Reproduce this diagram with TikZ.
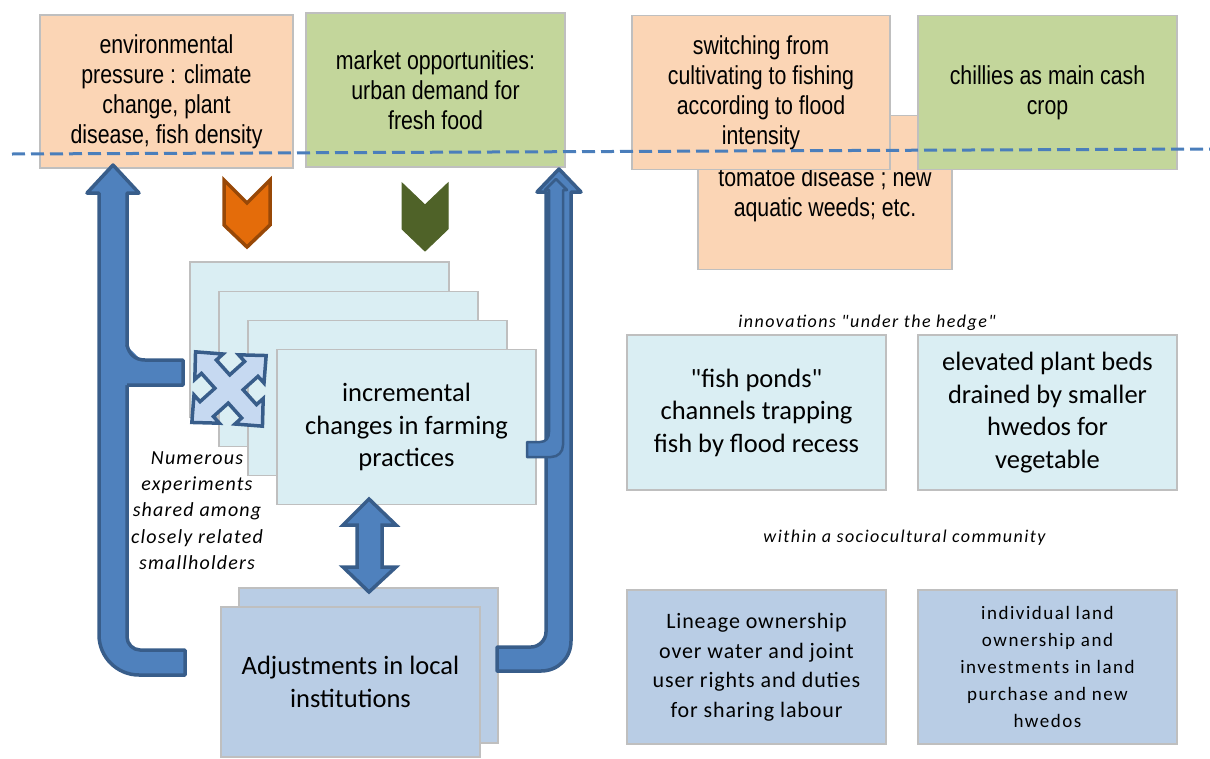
\documentclass[tikz,border=0pt]{standalone}
\usepackage{fontspec}
\setmainfont{Carlito}[Ligatures=TeXOff]
\newfontfamily\narrowfont{Liberation Sans}[FakeStretch=0.82,Ligatures=TeXOff]
\newfontfamily\notefont{Carlito}[LetterSpace=6,Ligatures=TeXOff]
\newfontfamily\spacedfont{Carlito}[LetterSpace=4,Ligatures=TeXOff]
\newfontfamily\widefont{Carlito}[LetterSpace=8,Ligatures=TeXOff]
\definecolor{peach}{HTML}{FBD5B5}
\definecolor{leaf}{HTML}{C3D69B}
\definecolor{pale}{HTML}{DAEEF3}
\definecolor{steel}{HTML}{B9CDE5}
\definecolor{boxgray}{HTML}{BFBFBF}
\definecolor{arrowblue}{HTML}{4F81BD}
\definecolor{arrowdark}{HTML}{385D8A}
\definecolor{quadfill}{HTML}{C6D9F1}
\definecolor{chevorange}{HTML}{E46C0A}
\definecolor{chevbrown}{HTML}{984807}
\definecolor{chevgreen}{HTML}{4F6228}
\definecolor{dashblue}{HTML}{4A7EBB}
\begin{document}
\begin{tikzpicture}[x=1pt,y=-1pt,
  box/.style={draw=boxgray, line width=1.6pt, inner sep=0pt, align=center,
              minimum width=258pt, minimum height=154pt},
  narrowtext/.style={font=\narrowfont\fontsize{26}{30}\selectfont},
  cardtext/.style={font=\fontsize{26.5}{32.5}\selectfont},
  blockarrow/.style={fill=arrowblue, draw=arrowdark, line width=3.5pt, line join=round},
  note/.style={font=\notefont\itshape\fontsize{20}{26.2}\selectfont, align=center, inner sep=0pt},
  headnote/.style={font=\widefont\itshape\fontsize{18}{22}\selectfont, inner sep=0pt},
]
\useasboundingbox (0,0) rectangle (1210,758);

% ---- top boxes ----
\node[box, fill=peach, minimum width=254pt] (tomato) at (825,192.5) {};
\node[narrowtext, align=center, inner sep=0pt] (tomatotext) at (825,195)
  {tomatoe disease ; new\\aquatic weeds; etc.};
\node[box, fill=peach, narrowtext, minimum width=253pt, minimum height=153pt] (env) at (166.5,91.5)
  {environmental\\pressure : climate\\change, plant\\disease, fish density};
\node[box, fill=leaf, narrowtext, minimum width=259pt] (market) at (435.5,90)
  {market opportunities:\\urban demand for\\fresh food};
\node[box, fill=peach, narrowtext] (switch) at (761,92.5)
  {switching from\\cultivating to fishing\\according to flood\\intensity};
\node[box, fill=leaf, narrowtext, minimum width=259pt] (chillies) at (1047.5,92.5)
  {chillies as main cash\\crop};

% ---- chevrons ----
\draw[fill=chevorange, draw=chevbrown, line width=3.5pt, line join=miter]
  (224,180) -- (247,203) -- (270,180) -- (270,225) -- (247,247) -- (224,225) -- cycle;
\draw[fill=chevgreen, draw=chevgreen, line width=1pt]
  (402,183) -- (425,205) -- (448,183) -- (448,229) -- (425,251) -- (402,229) -- cycle;

% ---- stacked cards ----
\node[box, fill=pale, cardtext, minimum width=259pt, minimum height=155pt] (card1) at (319.5,339.5)
  {incremental\\changes in farming\\practices};
\node[box, fill=pale, cardtext, minimum width=259pt, minimum height=155pt] (card2) at (348.5,369)
  {incremental\\changes in farming\\practices};
\node[box, fill=pale, cardtext, minimum width=259pt, minimum height=155pt] (card3) at (377.5,398)
  {incremental\\changes in farming\\practices};
\node[box, fill=pale, cardtext, minimum width=259pt, minimum height=155pt] (card4) at (406.5,427)
  {incremental\\changes in farming\\practices};

% ---- adjustments boxes ----
\node[box, fill=steel, minimum width=259pt, minimum height=155pt] (adjback) at (368.5,665.5) {};
\node[box, fill=steel, cardtext, minimum width=259pt, minimum height=150pt] (adjfront) at (350.5,682)
  {Adjustments in local\\institutions};

% ---- left U arrow ----
\draw[blockarrow]
  (185,650) -- (140,650) .. controls (133,650) and (127,644) .. (127,637)
  -- (127,193) -- (139,193) -- (113,165) -- (87,193) -- (99,193)
  -- (99,635) .. controls (99,657) and (117,675) .. (139,675) -- (185,675) -- cycle;
\fill[arrowblue] (120,345) -- (127,347) .. controls (135,352) and (138,360) .. (145,360)
  -- (183,360) -- (183,385) -- (120,385) -- cycle;
\draw[arrowdark, line width=3.5pt, line join=round]
  (127,345) .. controls (129,354) and (135,360) .. (145,360)
  -- (183,360) -- (183,385) -- (127,385);

% ---- quad arrow ----
\draw[fill=quadfill, draw=arrowdark, line width=3.5pt, line join=miter,
      shift={(229,389)}, rotate=42]
  (30,-10) -- (30,-19) -- (50,0) -- (30,19) -- (30,10) -- (10,10)
  -- (10,30) -- (19,30) -- (0,50) -- (-19,30) -- (-10,30) -- (-10,10)
  -- (-30,10) -- (-30,19) -- (-50,0) -- (-30,-19) -- (-30,-10) -- (-10,-10)
  -- (-10,-30) -- (-19,-30) -- (0,-50) -- (19,-30) -- (10,-30) -- (10,-10) -- cycle;

% ---- right U arrow ----
\draw[blockarrow]
  (497,647) -- (531,647) .. controls (539,647) and (546,640) .. (546,632)
  -- (546,192) -- (537,192) -- (559,169) -- (581,192) -- (571,192)
  -- (571,641) .. controls (571,658) and (558,671) .. (541,671) -- (497,671) -- cycle;
\draw[fill=arrowblue, draw=arrowdark, line width=2.5pt, line join=round]
  (527,442) -- (540,442) .. controls (546,442) and (549,438) .. (549,432)
  -- (549,190) -- (545,190) -- (556,179) -- (567,190) -- (563,190)
  -- (563,445) .. controls (563,452) and (558,457) .. (551,457) -- (527,457) -- cycle;

% ---- vertical double arrow ----
\draw[blockarrow, line join=miter]
  (369,499) -- (396,525) -- (382,525) -- (382,567) -- (396,567) -- (369,592)
  -- (343,567) -- (357,567) -- (357,525) -- (343,525) -- cycle;

% ---- notes ----
\node[note] (numerous) at (197,510.5)
  {Numerous\\experiments\\shared among\\closely related\\smallholders};
\node[headnote] (hedge) at (867,323) {innovations "under the hedge"};
\node[headnote] (within) at (904.5,538) {within a sociocultural community};

% ---- right boxes ----
\node[box, fill=pale, cardtext, minimum width=259pt, minimum height=155pt] (fish) at (756.5,412.5)
  {"fish ponds"\\channels trapping\\fish by flood recess};
\node[box, fill=pale, cardtext, minimum width=259pt, minimum height=155pt] (elevated) at (1047.5,412.5)
  {elevated plant beds\\drained by smaller\\hwedos for\\vegetable};
\node[box, fill=steel, font=\spacedfont\fontsize{22}{29.5}\selectfont, minimum width=259pt] (lineage) at (756.5,667)
  {Lineage ownership\\over water and joint\\user rights and duties\\for sharing labour};
\node[box, fill=steel, font=\widefont\fontsize{19}{27}\selectfont, minimum width=259pt] (individual) at (1047.5,667)
  {individual land\\ownership and\\investments in land\\purchase and new\\hwedos};

% ---- dashed line ----
\coordinate (dashL) at (12,154);
\coordinate (dashR) at (1210,149);
\draw[dashblue, line width=3pt, dash pattern=on 13pt off 6pt] (dashL) -- (dashR);
\end{tikzpicture}
\end{document}
